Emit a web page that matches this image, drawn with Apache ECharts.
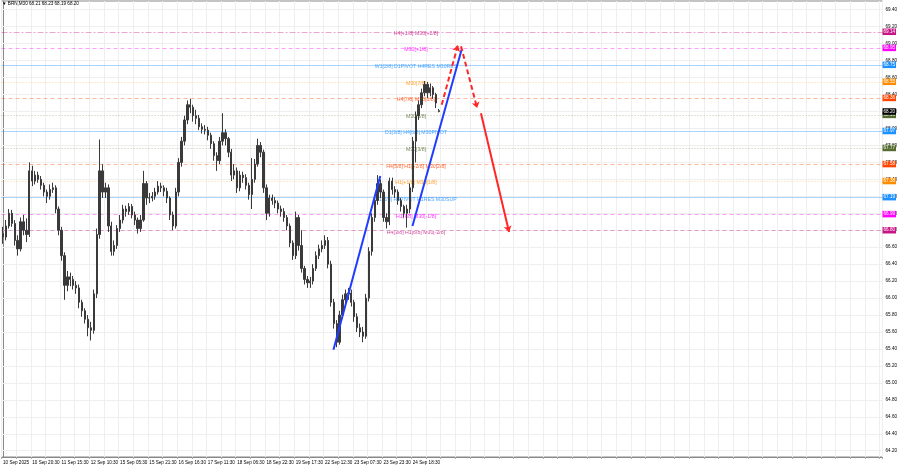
<!DOCTYPE html>
<html><head><meta charset="utf-8">
<script src="https://cdn.jsdelivr.net/npm/echarts@6/dist/echarts.min.js"></script>
<style>html,body{margin:0;padding:0;background:#fff}#c{width:900px;height:468px}</style>
</head><body><div id="c"></div>
<script>
const symbolName = 'BRN,M30';
const timeLabels = ['10 Sep 2025','10 Sep 20:30','11 Sep 15:30','12 Sep 10:30','15 Sep 05:30','15 Sep 21:30','16 Sep 16:30','17 Sep 11:30','18 Sep 06:30','18 Sep 22:30','19 Sep 17:30','22 Sep 12:30','23 Sep 07:30','23 Sep 23:30','24 Sep 18:30'];
const opens = [
66.76,66.72,66.85,67.00,66.88,66.68,66.58,66.90,66.80,66.75,
67.50,67.38,67.45,67.40,67.33,67.25,67.20,67.28,67.30,67.05,
66.80,66.50,66.15,66.25,66.22,66.15,66.12,65.95,65.85,65.75,
65.65,65.62,66.05,66.75,67.50,67.25,67.30,66.85,66.55,66.62,
66.82,66.92,67.05,67.02,67.08,66.98,66.92,66.82,66.92,67.35,
67.18,67.18,67.20,67.25,67.32,67.30,67.26,67.18,66.98,66.85,
67.25,67.60,67.85,68.10,68.28,68.25,68.15,68.12,68.02,67.99,
67.98,67.92,67.82,67.68,67.62,67.85,67.95,67.88,67.72,67.45,
67.50,67.30,67.45,67.42,67.33,67.22,67.40,67.58,67.80,67.72,
67.30,67.00,67.18,67.15,67.12,67.05,67.02,66.95,66.85,66.65,
66.50,66.95,66.62,66.35,66.22,66.18,66.20,66.35,66.50,66.58,
66.62,66.68,66.40,65.95,65.70,65.48,65.80,65.98,66.05,66.06,
65.95,65.78,65.65,65.60,65.55,66.00,66.55,66.95,67.15,67.35,
67.25,66.95,66.90,67.38,67.28,67.25,67.15,67.08,67.00,67.05,
67.30,67.85,68.15,68.28,68.42,68.52,68.42,68.48,68.40,68.21];
const closes = [
66.72,66.85,67.00,66.88,66.68,66.58,66.90,66.80,66.75,67.50,
67.38,67.45,67.40,67.33,67.25,67.20,67.28,67.30,67.05,66.80,
66.50,66.15,66.25,66.22,66.15,66.12,65.95,65.85,65.75,65.65,
65.62,66.05,66.75,67.50,67.25,67.30,66.85,66.55,66.62,66.82,
66.92,67.05,67.02,67.08,66.98,66.92,66.82,66.92,67.35,67.18,
67.18,67.20,67.25,67.32,67.30,67.26,67.18,66.98,66.85,67.25,
67.60,67.85,68.10,68.28,68.25,68.15,68.12,68.02,67.99,67.98,
67.92,67.82,67.68,67.62,67.85,67.95,67.88,67.72,67.45,67.50,
67.30,67.45,67.42,67.33,67.22,67.40,67.58,67.80,67.72,67.30,
67.00,67.18,67.15,67.12,67.05,67.02,66.95,66.85,66.65,66.50,
66.95,66.62,66.35,66.22,66.18,66.20,66.35,66.50,66.58,66.62,
66.68,66.40,65.95,65.70,65.48,65.80,65.98,66.05,66.06,65.95,
65.78,65.65,65.60,65.55,66.00,66.55,66.95,67.15,67.35,67.25,
66.95,66.90,67.38,67.28,67.25,67.15,67.08,67.00,67.05,67.30,
67.85,68.15,68.28,68.42,68.52,68.42,68.48,68.40,68.30,68.20];
const lows = [
66.64,66.68,66.82,66.84,66.62,66.50,66.55,66.74,66.66,66.72,
67.32,67.34,67.36,67.28,67.20,67.12,67.16,67.24,67.00,66.74,
66.44,65.98,66.08,66.14,66.10,66.05,65.88,65.78,65.70,65.55,
65.50,65.58,66.00,66.70,67.18,67.18,66.78,66.50,66.50,66.58,
66.78,66.88,66.96,66.98,66.94,66.86,66.76,66.78,66.90,67.10,
67.12,67.14,67.16,67.22,67.25,67.20,67.12,66.92,66.80,66.82,
67.20,67.55,67.80,68.05,68.18,68.08,68.05,67.98,67.94,67.93,
67.86,67.76,67.62,67.50,67.58,67.80,67.80,67.66,67.38,67.40,
67.24,67.26,67.36,67.28,67.16,67.05,67.36,67.55,67.66,67.24,
66.92,66.96,67.10,67.06,67.00,66.96,66.90,66.80,66.60,66.45,
66.46,66.56,66.30,66.16,66.12,66.12,66.16,66.32,66.46,66.54,
66.58,66.35,65.90,65.64,65.42,65.45,65.76,65.94,65.98,65.90,
65.72,65.60,65.54,65.48,65.52,65.96,66.50,66.90,67.10,67.18,
66.90,66.82,66.86,67.22,67.18,67.10,67.02,66.95,66.83,67.00,
67.25,67.60,68.10,68.24,68.38,68.36,68.38,68.35,68.24,68.19];
const highs = [
66.84,66.92,67.05,67.04,66.92,66.74,66.95,66.98,66.94,67.60,
67.56,67.50,67.49,67.44,67.36,67.28,67.34,67.36,67.33,67.08,
66.84,66.54,66.32,66.30,66.26,66.20,66.16,65.98,65.88,65.80,
65.72,66.10,66.82,67.87,67.58,67.36,67.34,66.90,66.68,66.86,
66.98,67.10,67.09,67.12,67.11,67.02,66.95,66.98,67.50,67.38,
67.24,67.25,67.30,67.38,67.36,67.33,67.30,67.20,67.02,67.30,
67.65,67.90,68.15,68.33,68.35,68.28,68.22,68.16,68.06,68.04,
68.02,67.95,67.85,67.72,67.90,68.18,67.99,67.90,67.76,67.58,
67.54,67.50,67.49,67.46,67.36,67.65,67.64,67.88,67.84,67.75,
67.34,67.22,67.22,67.19,67.15,67.09,67.06,66.98,66.88,66.68,
67.02,66.98,66.80,66.38,66.26,66.25,66.40,66.55,66.63,66.68,
66.74,66.72,66.44,65.99,65.74,65.85,66.04,66.10,66.12,66.10,
65.98,65.82,65.70,65.66,66.05,66.60,67.00,67.20,67.45,67.40,
67.28,67.00,67.42,67.42,67.32,67.28,67.18,67.10,67.10,67.35,
67.90,68.20,68.33,68.47,68.56,68.55,68.53,68.50,68.42,68.23];
const priceTicks = [64.2,64.4,64.6,64.8,65.0,65.2,65.4,65.6,65.8,66.0,66.2,66.4,66.6,66.8,67.0,67.2,67.4,67.6,67.8,68.0,68.2,68.4,68.6,68.8,69.0,69.2,69.4];
const levelValues = [69.14,68.95,68.75,68.55,68.36,68.16,67.97,67.77,67.58,67.38,67.19,66.99,66.80];
const levelTexts = ['H4[+1/8] M30[+2/8]','M30[+1/8]','W1[2/8] D1PIVOT H4RES M30RES','M30[7/8]','H4[7/8] M30[6/8]','M30[5/8]','D1[3/8] H4[6/8] M30PIVOT','M30[3/8]','H4[5/8] H1[+2/8] M30[2/8]','H1[+1/8] M30[1/8]','D1[2/8] H4PIVOT H1RES M30SUP','H1[7/8] M30[-1/8]','H4[3/8] H1[6/8] M30[-2/8]'];
// trend / projection lines: [bar slot, price]
const trendBlue1 = [[112.9,65.39],[128.9,67.44]];
const trendBlue2 = [[139.9,66.85],[156.7,68.93]];
const projUp = [[149.9,68.28],[155.4,68.98]];
const projDown = [[156.5,68.97],[162.0,68.24]];
const projFinal = [[163.3,68.18],[172.9,66.78]];

// ---- layout / styles ----
const N = 301, PER_LABEL = 10, LABEL_SLOT = 141.1;
const FONT = "'Liberation Sans', Arial, sans-serif";
const COL = {pink:'#C71585', mag:'#FF00FF', blue:'#1E90FF', org:'#FF8C00', red:'#FF4500', olv:'#556B2F'};
const levelColors = [COL.pink,COL.mag,COL.blue,COL.org,COL.red,COL.olv,COL.blue,COL.olv,COL.red,COL.org,COL.blue,COL.mag,COL.pink];
const levelDash = [[6,2,2,2],[4,3],'solid',[1,2],[4,3],[1,2],'solid',[1,2],[4,3],[1,2],'solid',[4,3],[4,3]];
const fade = (hex, a) => {
  const n = parseInt(hex.slice(1), 16);
  return 'rgba(' + (n >> 16 & 255) + ',' + (n >> 8 & 255) + ',' + (n & 255) + ',' + a + ')';
};
const L = closes.length - 1;
const cats = Array.from({length:N}, (_, i) => String(i));
const candles = opens.map((o, i) => [o, closes[i], lows[i], highs[i]]);
const boxLabel = (txt, bg) => ({show: true, position: 'end', distance: 0, formatter: txt,
  backgroundColor: bg, color: '#fff', fontSize: 4.6, padding: [1, 1, 0.5, 1], fontFamily: FONT, opacity: 1});

const chart = echarts.init(document.getElementById('c'));
chart.setOption({
  animation: false,
  backgroundColor: '#fff',
  textStyle: {fontFamily: FONT},
  title: {
    text: '▼ ' + symbolName + ' ' + [opens[L], highs[L], lows[L], closes[L]].map(v => v.toFixed(2)).join(' '),
    left: 2, top: 1, padding: 0,
    textStyle: {fontSize: 4.6, fontWeight: 'normal', color: '#000', fontFamily: FONT}
  },
  grid: {left: 1, right: 17, top: 1, bottom: 11, show: true, borderColor: '#888', borderWidth: 1},
  xAxis: [{
    type: 'category', data: cats, boundaryGap: true,
    axisLine: {show: true, lineStyle: {color: '#888'}},
    axisTick: {show: true, interval: (i) => i % 5 === 0, length: 2, lineStyle: {color: '#aaa'}},
    axisLabel: {interval: 0, align: 'left', fontSize: 4.6, color: '#000', margin: 3, fontFamily: FONT,
      formatter: (v, i) => (i % PER_LABEL === 0 && timeLabels[i / PER_LABEL]) ? timeLabels[i / PER_LABEL] : ''},
    splitLine: {show: true, interval: (i) => i % 5 === 0, lineStyle: {color: '#efefef', width: 1}}
  }, {
    type: 'value', min: -0.5, max: N - 0.5, show: false
  }],
  yAxis: {
    type: 'value', position: 'right', min: 64.126, max: 69.503,
    axisLine: {show: true, lineStyle: {color: '#888'}},
    axisTick: {show: true, customValues: priceTicks, length: 2, lineStyle: {color: '#888'}},
    axisLabel: {customValues: priceTicks, formatter: v => v.toFixed(2), fontSize: 4.6, color: '#000', margin: 3, align: 'left', fontFamily: FONT},
    splitLine: {show: false}
  },
  series: [
    {type: 'line', data: [], z: 1, silent: true,
     markLine: {silent: true, symbol: 'none', animation: false, label: {show: false},
       lineStyle: {color: '#efefef', type: 'solid', width: 1},
       data: priceTicks.map(v => ({yAxis: v}))}},
    {type: 'line', data: [], z: 2, silent: true,
     markLine: {silent: true, symbol: 'none', animation: false,
       data: levelValues.map((v, i) => ({
         yAxis: v,
         lineStyle: {color: fade(levelColors[i], 0.38), type: levelDash[i], width: 1},
         label: boxLabel(v.toFixed(2), levelColors[i])
       })).concat([{
         yAxis: closes[L],
         lineStyle: {color: 'rgba(0,0,0,0)', width: 1},
         label: boxLabel(closes[L].toFixed(2), '#000')
       }])}},
    {type: 'candlestick', data: candles, barWidth: 1.8, z: 5,
     itemStyle: {color: '#3a3a3a', color0: '#3a3a3a', borderColor: '#3a3a3a', borderColor0: '#3a3a3a', borderWidth: 1}},
    {type: 'scatter', xAxisIndex: 1, z: 4, symbolSize: 1, silent: true,
     itemStyle: {color: 'rgba(0,0,0,0)'},
     label: {show: true, position: 'inside', offset: [0, 2], fontSize: 5.2, fontFamily: FONT,
       formatter: p => levelTexts[p.dataIndex]},
     data: levelValues.map((v, i) => ({value: [LABEL_SLOT, v], label: {color: levelColors[i]}}))},
    {type: 'lines', coordinateSystem: 'cartesian2d', xAxisIndex: 1, yAxisIndex: 0, z: 6, silent: true,
     lineStyle: {color: '#1f3dff', width: 2, opacity: 1},
     data: [{coords: trendBlue1}, {coords: trendBlue2}]},
    {type: 'lines', coordinateSystem: 'cartesian2d', xAxisIndex: 1, yAxisIndex: 0, z: 7, silent: true,
     symbol: ['none', 'arrow'], symbolSize: 6,
     lineStyle: {color: '#ff2626', width: 2, opacity: 1},
     data: [
       {coords: projUp, lineStyle: {type: [5, 3]}},
       {coords: projDown, lineStyle: {type: [5, 3]}},
       {coords: projFinal}
     ]}
  ]
});
</script>
</body></html>
